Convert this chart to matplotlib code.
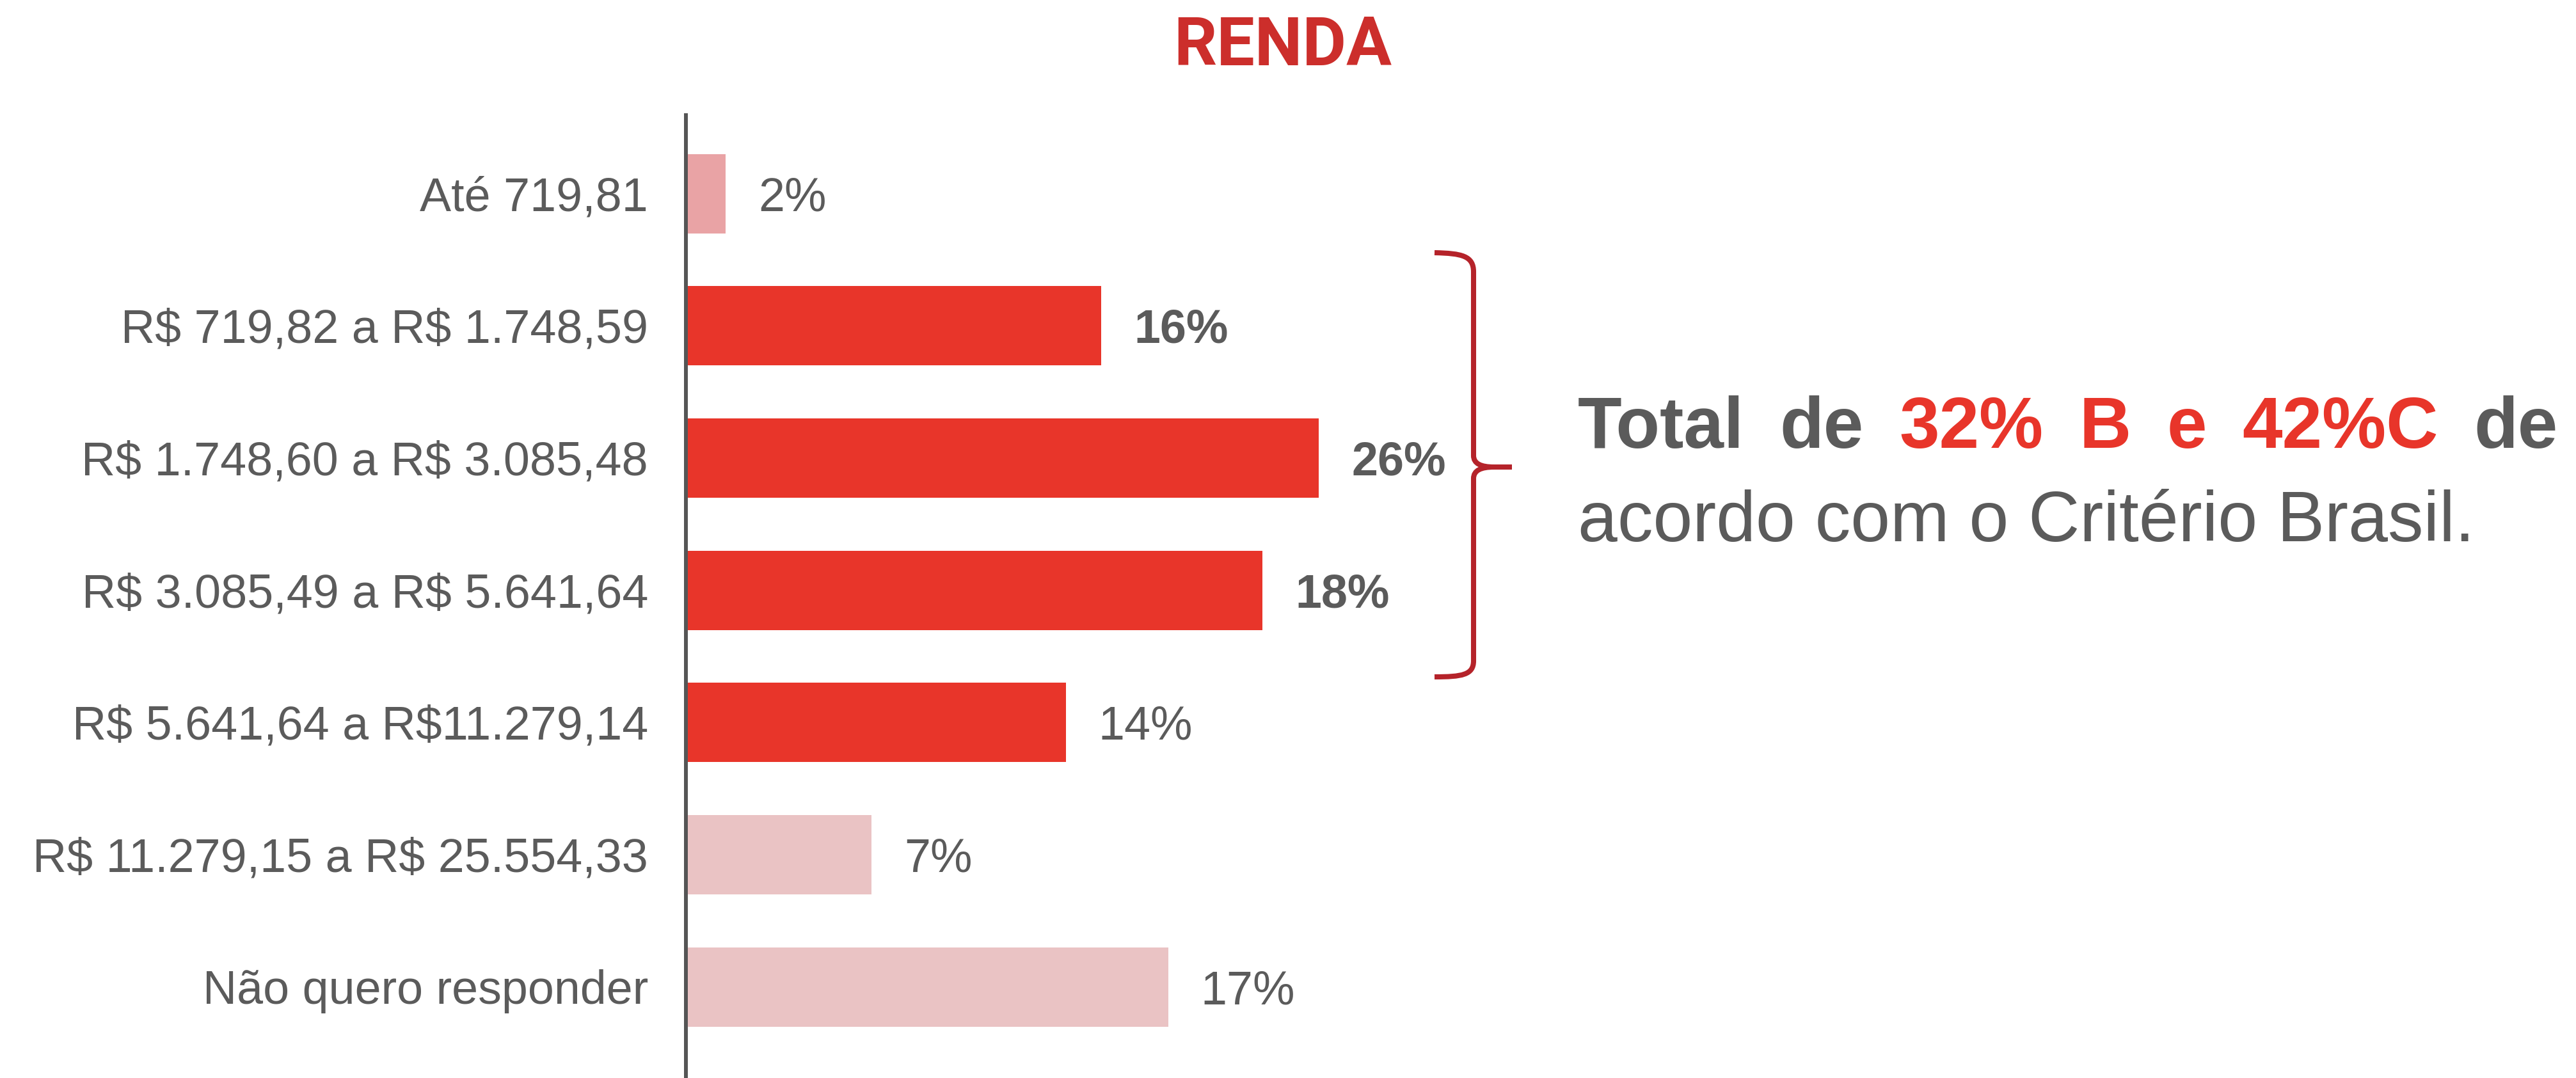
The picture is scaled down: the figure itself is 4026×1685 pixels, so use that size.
import matplotlib
matplotlib.use("Agg")
import matplotlib.pyplot as plt
from matplotlib.path import Path
from matplotlib.patches import PathPatch

plt.rcParams["text.parse_math"] = False

# data
categories = ["Até 719,81", "R$ 719,82 a R$ 1.748,59", "R$ 1.748,60 a R$ 3.085,48",
              "R$ 3.085,49 a R$ 5.641,64", "R$ 5.641,64 a R$11.279,14",
              "R$ 11.279,15 a R$ 25.554,33", "Não quero responder"]
values = [2, 16, 26, 18, 14, 7, 17]
# bar lengths as drawn in the original (not exactly proportional to the labels)
bar_len = [1.44, 15.76, 24.05, 21.9, 14.4, 7.0, 18.3]
highlight = [False, True, True, True, False, False, False]

RED = "#E8352A"
PINK_DARK = "#E9A3A5"
PINK = "#EAC3C4"
GRAY = "#5B5B5B"
colors = [PINK_DARK, RED, RED, RED, RED, PINK, PINK]

W, H = 4026, 1685
fig = plt.figure(figsize=(W / 100, H / 100), dpi=100)

ax_left = 1072
ax_top = 180
ax = fig.add_axes([ax_left / W, 0, (W - ax_left) / W, (H - ax_top) / H])
px_per_unit = 41.0
ax.set_xlim(0, (W - ax_left) / px_per_unit)
ax.set_ylim(6.689, -0.593)

ys = list(range(len(categories)))
ax.barh(ys, bar_len, height=0.6, color=colors, left=0.08)

for y, cat, v, L, hl in zip(ys, categories, values, bar_len, highlight):
    ax.text(-0.02, y + 0.128, cat, transform=ax.get_yaxis_transform(),
            ha="right", va="baseline", fontsize=53, color=GRAY,
            family="Liberation Sans")
    ax.text(L + 0.08 + 1.24, y + 0.128, f"{v}%", ha="left", va="baseline",
            fontsize=53, color=GRAY, family="Liberation Sans",
            fontweight="bold" if hl else "normal")

for s in ["top", "right", "bottom"]:
    ax.spines[s].set_visible(False)
ax.spines["left"].set_color("#555555")
ax.spines["left"].set_linewidth(4.3)
ax.set_xticks([])
ax.set_yticks([])
ax.patch.set_alpha(0)

# title
fig.text(2005 / W, 1 - 102 / H, "RENDA", ha="center", va="baseline",
         fontsize=76, fontweight="bold", color="#CC2E2B", family="Roboto")

# overlay in pixel coordinates for bracket and note
ov = fig.add_axes([0, 0, 1, 1])
ov.set_xlim(0, W)
ov.set_ylim(H, 0)
ov.axis("off")
ov.patch.set_alpha(0)

verts = [(2242, 395), (2285, 396), (2303, 400), (2303, 425),
         (2303, 712),
         (2303, 725), (2315, 730), (2335, 730),
         (2363, 730),
         (2335, 730),
         (2315, 730), (2303, 735), (2303, 748),
         (2303, 1033),
         (2303, 1055), (2285, 1058), (2242, 1058)]
codes = [Path.MOVETO, Path.CURVE4, Path.CURVE4, Path.CURVE4,
         Path.LINETO,
         Path.CURVE4, Path.CURVE4, Path.CURVE4,
         Path.LINETO,
         Path.MOVETO,
         Path.CURVE4, Path.CURVE4, Path.CURVE4,
         Path.LINETO,
         Path.CURVE4, Path.CURVE4, Path.CURVE4]
ov.add_patch(PathPatch(Path(verts, codes), facecolor="none", edgecolor="#B5232A",
                       lw=5.8, capstyle="butt", joinstyle="round"))

# justified first line of the note
words = [("Total", GRAY), ("de", GRAY), ("32%", RED), ("B", RED), ("e", RED),
         ("42%C", RED), ("de", GRAY)]
x0, x1 = 2466, 3998
fig.canvas.draw()
r = fig.canvas.get_renderer()
arts = []
widths = []
for w, c in words:
    t = ov.text(0, 700, w, ha="left", va="baseline", fontsize=81,
                fontweight="bold", color=c, family="Liberation Sans")
    bb = t.get_window_extent(renderer=r)
    arts.append(t)
    widths.append(bb.width)
gap = (x1 - x0 - sum(widths)) / (len(words) - 1)
x = x0
for t, wd in zip(arts, widths):
    t.set_x(x)
    x += wd + gap

ov.text(x0, 846, "acordo com o Critério Brasil.", ha="left", va="baseline",
        fontsize=80, color=GRAY, family="Liberation Sans")

fig.savefig("out.png", dpi=100)
